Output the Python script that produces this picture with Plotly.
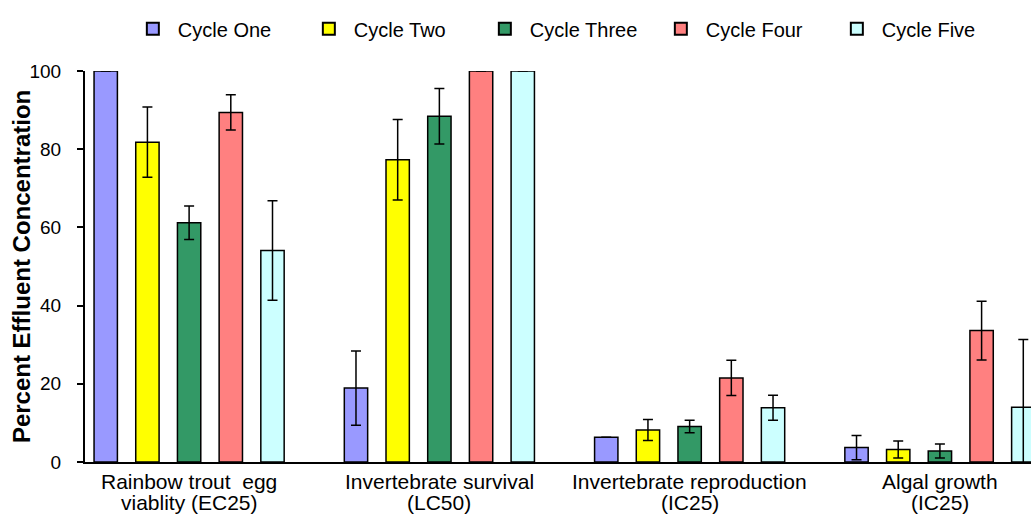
import plotly.graph_objects as go

categories = ["Rainbow trout  egg<br>viablity (EC25)", "Invertebrate survival<br>(LC50)",
              "Invertebrate reproduction<br>(IC25)", "Algal growth<br>(IC25)"]
series_names = ["Cycle One", "Cycle Two", "Cycle Three", "Cycle Four", "Cycle Five"]
cycle_one = [100, 18.9, 6.3, 3.7]
cycle_two = [81.8, 77.3, 8.2, 3.2]
cycle_three = [61.2, 88.4, 9.1, 2.8]
cycle_four = [89.4, 100, 21.5, 33.6]
cycle_five = [54.1, 100, 13.9, 14.0]
err_one = [None, 9.5, None, 3.1]
err_two = [9.0, 10.3, 2.7, 2.2]
err_three = [4.3, 7.1, 1.6, 1.8]
err_four = [4.5, None, 4.5, 7.5]
err_five = [12.7, None, 3.2, 17.3]
colors = ["#9999FF", "#FFFF00", "#339966", "#FF8080", "#CCFFFF"]
y_title = "Percent Effluent Concentration"

values = [cycle_one, cycle_two, cycle_three, cycle_four, cycle_five]
errors = [err_one, err_two, err_three, err_four, err_five]

fig = go.Figure()
for name, vals, errs, col in zip(series_names, values, errors, colors):
    fig.add_trace(go.Bar(
        name=name, x=categories, y=vals, marker=dict(color=col, line=dict(color="#000000", width=1.5)),
        error_y=dict(type="data", array=errs, visible=True, color="#000000", thickness=1.5, width=5),
    ))

# category labels: two lines each, placed under each category with tighter line spacing
annotations = []
for cat in categories:
    line1, line2 = cat.split("<br>")
    annotations.append(dict(x=cat, xref="x", y=-0.051, yref="paper", text=line1, showarrow=False,
                            xanchor="center", yanchor="middle", font=dict(size=21)))
    annotations.append(dict(x=cat, xref="x", y=-0.104, yref="paper", text=line2, showarrow=False,
                            xanchor="center", yanchor="middle", font=dict(size=21)))
# y axis title
annotations.append(dict(x=-0.067, xref="paper", y=0.5, yref="paper", text="<b>" + y_title + "</b>",
                        textangle=-90, showarrow=False, xanchor="center", yanchor="middle",
                        font=dict(size=24)))

font_family = "Liberation Sans, Arial, sans-serif"
fig.update_layout(
    width=1031, height=514,
    margin=dict(l=85, r=0, t=71, b=52, autoexpand=False),
    paper_bgcolor="white", plot_bgcolor="white",
    barmode="group", bargap=0.167, bargroupgap=0.44,
    font=dict(family=font_family, color="#000000", size=20),
    showlegend=True,
    legend=dict(orientation="h", xref="container", x=0.124, xanchor="left",
                yref="container", y=0.982, yanchor="top",
                entrywidth=121, entrywidthmode="pixels",
                font=dict(size=20), itemsizing="constant", itemwidth=40),
    annotations=annotations,
    xaxis=dict(type="category", range=[-0.416, 3.364], showline=True, linecolor="#000000",
               linewidth=2, ticks="", showgrid=False, showticklabels=False),
    yaxis=dict(range=[0, 100], tickvals=[0, 20, 40, 60, 80, 100], showline=True,
               linecolor="#000000", linewidth=2, ticks="outside", ticklen=6, tickwidth=2,
               tickcolor="#000000", showgrid=False, zeroline=False, tickfont=dict(size=19),
               ticklabelstandoff=12),
)
fig.write_html("out.html")
